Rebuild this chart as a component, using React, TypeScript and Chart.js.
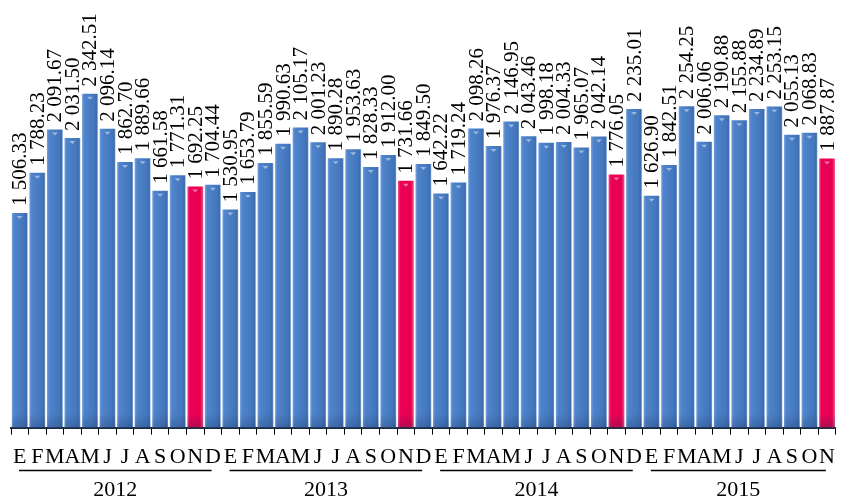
import React, { useEffect, useRef } from "react";
import { Chart, registerables } from "chart.js";

Chart.register(...registerables);

const months = ["E", "F", "M", "A", "M", "J", "J", "A", "S", "O", "N", "D"];
const years = ["2012", "2013", "2014", "2015"];
const monthsPerYear = [12, 12, 12, 11];

const values2012 = [1506.33, 1788.23, 2091.67, 2031.5, 2342.51, 2096.14, 1862.7, 1889.66, 1661.58, 1771.31, 1692.25, 1704.44];
const values2013 = [1530.95, 1653.79, 1855.59, 1990.63, 2105.17, 2001.23, 1890.28, 1953.63, 1828.33, 1912.0, 1731.66, 1849.5];
const values2014 = [1642.22, 1719.24, 2098.26, 1976.37, 2146.95, 2043.46, 1998.18, 2004.33, 1965.07, 2042.14, 1776.05, 2235.01];
const values2015 = [1626.9, 1842.51, 2254.25, 2006.06, 2190.88, 2155.88, 2234.89, 2253.15, 2055.13, 2068.83, 1887.87];

const highlightIndex = 10;
const FONT = '"Liberation Serif", "Times New Roman", Times, serif';

function fmt(v: number): string {
  const s = v.toFixed(2);
  const [i, d] = s.split(".");
  const withSp = i.replace(/\B(?=(\d{3})+(?!\d))/g, " ");
  return withSp + "." + d;
}

export default function App() {
  const ref = useRef<HTMLCanvasElement | null>(null);

  useEffect(() => {
    if (!ref.current) return;
    let chart: any = null;
    let cancelled = false;

    const labels: string[] = [];
    const data: number[] = [];
    const isHighlight: boolean[] = [];
    const allVals = [values2012, values2013, values2014, values2015];
    allVals.forEach((arr, yi) => {
      for (let m = 0; m < monthsPerYear[yi]; m++) {
        labels.push(months[m]);
        data.push(arr[m]);
        isHighlight.push(m === highlightIndex);
      }
    });

    const bgColor = (c: any) => {
      const chart = c.chart;
      const hl = isHighlight[c.dataIndex];
      const xs = chart.scales?.x;
      if (!xs || !chart.chartArea) return hl ? "#EE0058" : "#4A7EC6";
      const cx = xs.getPixelForValue(c.dataIndex);
      const w = 16;
      const g = chart.ctx.createLinearGradient(cx - w / 2, 0, cx + w / 2, 0);
      if (hl) {
        g.addColorStop(0, "#F4558F");
        g.addColorStop(0.15, "#EE0058");
        g.addColorStop(0.8, "#E6004F");
        g.addColorStop(1, "#F0508A");
      } else {
        g.addColorStop(0, "#77A3DD");
        g.addColorStop(0.15, "#4F84CB");
        g.addColorStop(0.75, "#4477BD");
        g.addColorStop(0.92, "#3E6DAE");
        g.addColorStop(1, "#8FB2E0");
      }
      return g;
    };

    const labelPlugin = {
      id: "valueLabels",
      afterDatasetsDraw(chart: any) {
        const ctx = chart.ctx;
        const meta = chart.getDatasetMeta(0);
        const bottom = chart.chartArea.bottom;
        ctx.save();
        ctx.font = `21px ${FONT}`;
        ctx.fillStyle = "#000";
        meta.data.forEach((bar: any, i: number) => {
          ctx.save();
          const vg = ctx.createLinearGradient(0, bottom - 14, 0, bottom);
          vg.addColorStop(0, "rgba(20,40,80,0)");
          vg.addColorStop(1, "rgba(20,40,80,0.25)");
          ctx.fillStyle = vg;
          ctx.fillRect(bar.x - bar.width / 2, bottom - 14, bar.width, 14);
          ctx.fillStyle = "rgba(255,255,255,0.45)";
          ctx.beginPath();
          ctx.moveTo(bar.x - 3, bar.y + 3);
          ctx.lineTo(bar.x + 3, bar.y + 3);
          ctx.lineTo(bar.x, bar.y + 6);
          ctx.closePath();
          ctx.fill();
          ctx.restore();

          ctx.save();
          ctx.translate(bar.x + 1, bar.y - 7);
          ctx.rotate(-Math.PI / 2);
          ctx.textAlign = "left";
          ctx.textBaseline = "middle";
          ctx.fillText(fmt(data[i]), 0, 0);
          ctx.restore();
        });
        ctx.restore();
      },
    };

    const yearPlugin = {
      id: "yearGroups",
      afterDraw(chart: any) {
        const ctx = chart.ctx;
        const xs = chart.scales.x;
        const cat = (xs.right - xs.left) / labels.length;
        let start = 0;
        ctx.save();
        ctx.font = `22px ${FONT}`;
        ctx.fillStyle = "#000";
        ctx.strokeStyle = "#000";
        ctx.lineWidth = 1.5;
        ctx.textAlign = "center";
        ctx.textBaseline = "middle";
        years.forEach((yr, yi) => {
          const end = start + monthsPerYear[yi] - 1;
          const x1 = xs.getPixelForValue(start) - cat / 2 + 8;
          const x2 = xs.getPixelForValue(end) + cat / 2 - 10;
          ctx.beginPath();
          ctx.moveTo(x1, 470.5);
          ctx.lineTo(x2, 470.5);
          ctx.stroke();
          ctx.fillText(yr, (x1 + x2) / 2, 490);
          start = end + 1;
        });
        ctx.restore();
      },
    };

    const build = () => {
      if (cancelled || !ref.current) return;
      chart = new Chart(ref.current, {
        type: "bar",
        data: {
          labels,
          datasets: [
            {
              data,
              backgroundColor: bgColor,
              borderWidth: 0,
              barPercentage: 0.9,
              categoryPercentage: 1,
            },
          ],
        },
        options: {
          animation: false,
          responsive: false,
          maintainAspectRatio: false,
          layout: { padding: { left: 11, right: -4, top: 0, bottom: 21 } },
          plugins: { legend: { display: false }, tooltip: { enabled: false } },
          scales: {
            y: { display: false, min: 0, max: 3000 },
            x: {
              grid: {
                display: true,
                drawOnChartArea: false,
                offset: true,
                tickLength: 7,
                color: "#000",
                lineWidth: 1,
              },
              border: { display: true, color: "#1A2A40", width: 2 },
              ticks: {
                font: { family: FONT, size: 22 },
                color: "#000",
                padding: 9,
                maxRotation: 0,
                minRotation: 0,
                autoSkip: false,
              },
            },
          },
        },
        plugins: [labelPlugin, yearPlugin],
      });
    };

    const fontsApi: any = (document as any).fonts;
    if (fontsApi && fontsApi.load) {
      fontsApi.load('22px "Liberation Serif"').then(build, build);
    } else {
      build();
    }
    return () => {
      cancelled = true;
      if (chart) chart.destroy();
    };
  }, []);

  return (
    <div style={{ position: "absolute", left: 0, top: 0, width: 844, height: 500, background: "#fff" }}>
      <canvas ref={ref} width={844} height={500} style={{ width: 844, height: 500 }} />
    </div>
  );
}
